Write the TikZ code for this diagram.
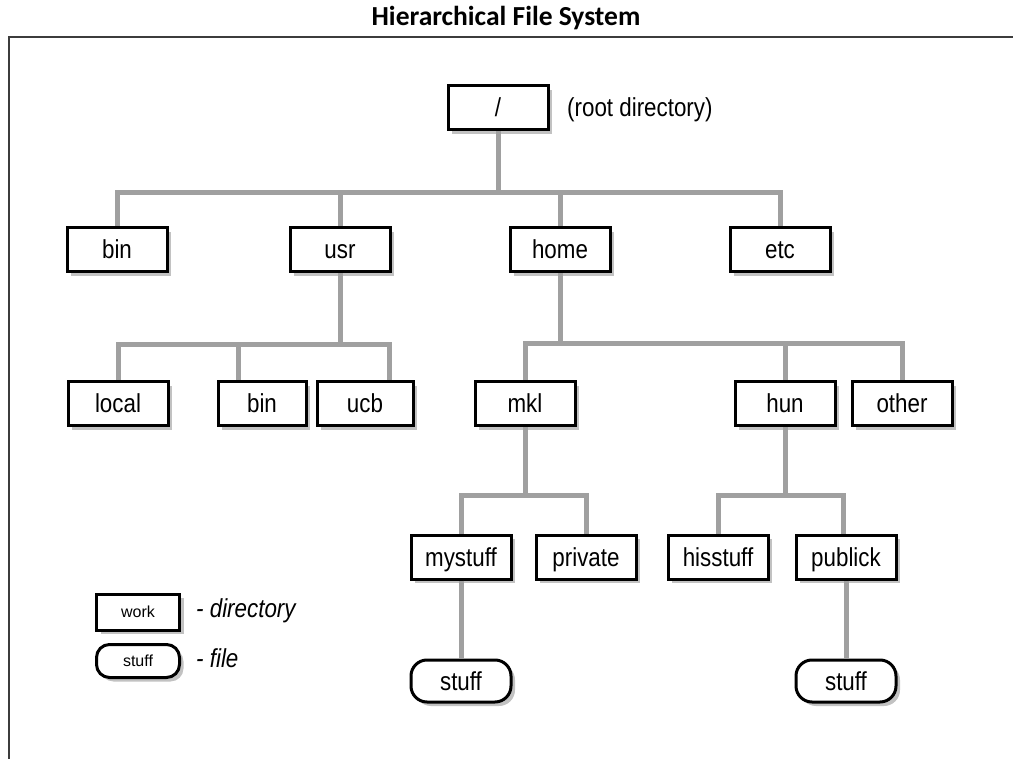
\documentclass[tikz,border=0pt]{standalone}
\usepackage{fontspec}
\setmainfont[FakeStretch=0.86]{Liberation Sans}
\newfontfamily\legendfont{Liberation Sans}
\newfontfamily\titlefont{Carlito}
\usetikzlibrary{shadows,calc}
\definecolor{conncol}{RGB}{160,160,160}
\definecolor{framecol}{RGB}{60,60,60}
\tikzset{
  dirbox/.style={draw=black, line width=3pt, fill=white, minimum width=100pt, minimum height=44pt,
    inner sep=0pt, text height=18pt, text depth=0pt, font=\fontsize{26}{30}\selectfont,
    drop shadow={shadow xshift=4pt, shadow yshift=-4pt, fill=black!40, opacity=0.6}},
  filebox/.style={dirbox, rounded corners=16pt, minimum height=42pt},
  smalldir/.style={dirbox, minimum width=83pt, minimum height=36pt, text height=10pt, font=\legendfont\fontsize{16}{18}\selectfont},
  smallfile/.style={filebox, minimum width=83pt, minimum height=33pt, rounded corners=13pt, text height=10pt, font=\legendfont\fontsize{16}{18}\selectfont},
  conn/.style={draw=conncol, line width=5pt, line join=miter},
  lbl/.style={font=\fontsize{26}{30}\selectfont, inner sep=0pt, anchor=base west},
}
\begin{document}
\begin{tikzpicture}[x=1pt,y=-1pt]
\useasboundingbox (0,0) rectangle (1013,759);
% title and frame
\node[font=\titlefont\bfseries\fontsize{27.5}{30}\selectfont] (title) at (506,18) {Hierarchical File System};
\draw[framecol, line width=2.2pt] (9,759) -- (9,37) -- (1013,37);

% nodes
\node[dirbox] (root) at (498,108) {/};
\node[lbl] (rootlbl) at (567,117) {(root directory)};

\node[dirbox] (bin) at (117,250) {bin};
\node[dirbox] (usr) at (340,250) {usr};
\node[dirbox] (home) at (560,250) {home};
\node[dirbox] (etc) at (780,250) {etc};

\node[dirbox] (local) at (118,404) {local};
\node[dirbox, minimum width=88pt] (ubin) at (262,404) {bin};
\node[dirbox, minimum width=96pt] (ucb) at (365,404) {ucb};

\node[dirbox] (mkl) at (525,404) {mkl};
\node[dirbox] (hun) at (785,404) {hun};
\node[dirbox] (other) at (902,404) {other};

\node[dirbox] (mystuff) at (461,557) {mystuff};
\node[dirbox] (private) at (586,557) {private};
\node[dirbox] (hisstuff) at (718,557) {hisstuff};
\node[dirbox] (publick) at (846,557) {publick};

\node[filebox] (stuff1) at (461,681) {stuff};
\node[filebox] (stuff2) at (846,681) {stuff};

% legend
\node[smalldir] (lwork) at (138,612) {work};
\node[lbl, font=\itshape\fontsize{26}{30}\selectfont] (ldir) at (196,617) {- directory};
\node[smallfile] (lstuff) at (138,661) {stuff};
\node[lbl, font=\itshape\fontsize{26}{30}\selectfont] (lfile) at (196,667) {- file};

% bus coordinates
\coordinate (b0) at (498,193);
\coordinate (b1) at (340,345);
\coordinate (b2) at (560,344);
\coordinate (b3) at (525,495);
\coordinate (b4) at (785,495);

\draw[conn] (root.south) -- (b0);
\draw[conn] (b0) -| (bin.north);
\draw[conn] (b0) -| (usr.north);
\draw[conn] (b0) -| (home.north);
\draw[conn] (b0) -| (etc.north);

\draw[conn] (usr.south) -- (b1);
\draw[conn] (b1) -| (local.north);
\draw[conn] (b1) -| ([xshift=22pt]ubin.north west);
\draw[conn] (b1) -| ([xshift=-25pt]ucb.north east);

\draw[conn] (home.south) -- (b2);
\draw[conn] (b2) -| (mkl.north);
\draw[conn] (b2) -| (hun.north);
\draw[conn] (b2) -| (other.north);

\draw[conn] (mkl.south) -- (b3);
\draw[conn] (b3) -| (mystuff.north);
\draw[conn] (b3) -| (private.north);

\draw[conn] (hun.south) -- (b4);
\draw[conn] (b4) -| (hisstuff.north);
\draw[conn] (b4) -| ([xshift=-3pt]publick.north);

\draw[conn] (mystuff.south) -- (stuff1.north);
\draw[conn] (publick.south) -- (stuff2.north);
\end{tikzpicture}
\end{document}
